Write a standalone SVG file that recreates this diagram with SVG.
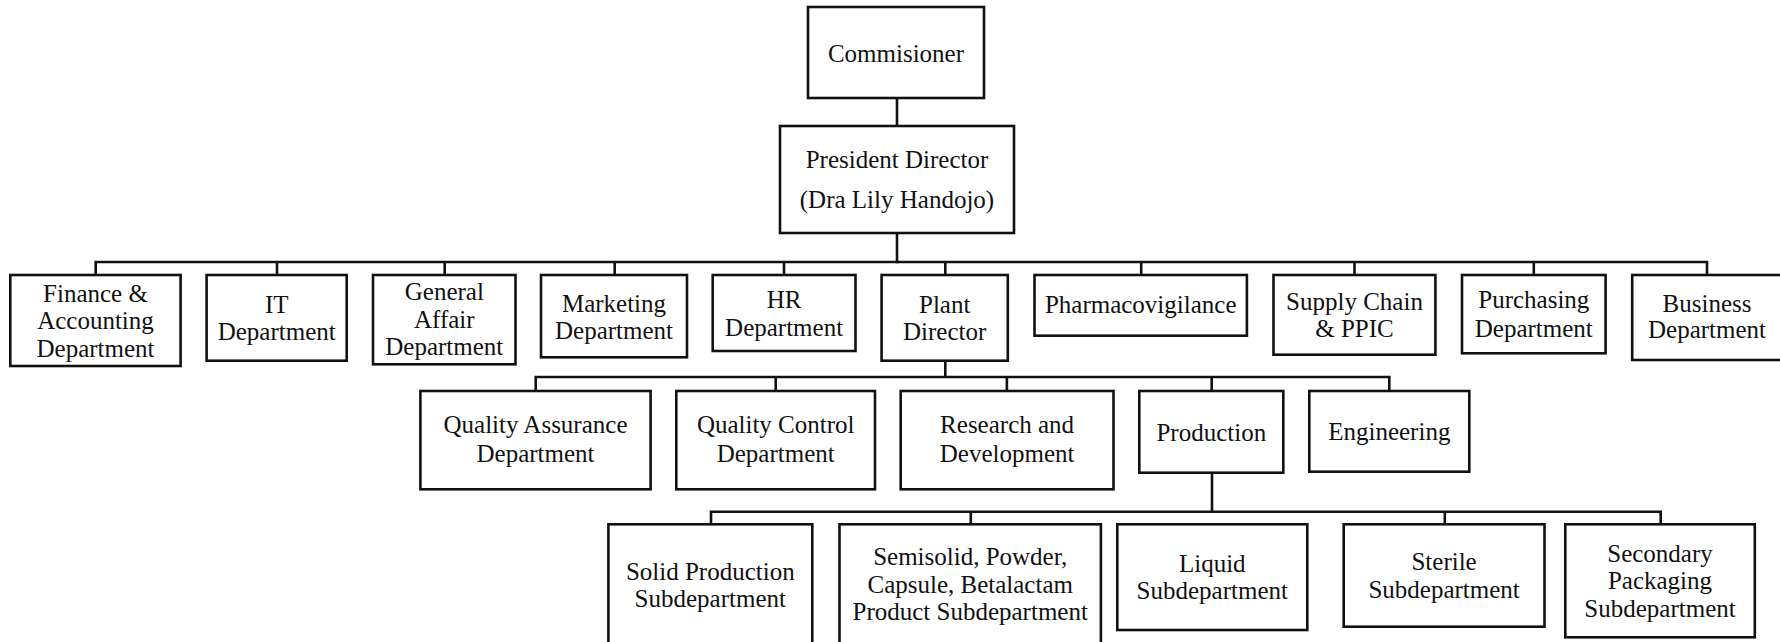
<svg xmlns="http://www.w3.org/2000/svg" width="1780" height="642" viewBox="0 0 1780 642">
<style>
.b{fill:#fff;stroke:#111;stroke-width:2.6}
.c{fill:none;stroke:#111;stroke-width:2.6;stroke-linecap:square;stroke-linejoin:miter}
text{font-family:"Liberation Serif","Times New Roman",serif;font-size:25px;fill:#111;text-anchor:middle}
</style>
<rect width="1780" height="642" fill="#fff"/>
<g id="connectors">
<path class="c" d="M897,98V126M897,233V262"/>
<path class="c" d="M95.7,275V262H1707V275M277,262V275M444.7,262V275M614.7,262V275M784,262V275M945.3,262V275M1141.2,262V275M1354.5,262V275M1533.8,262V275"/>
<path class="c" d="M945.3,360.7V377M535.7,391V377H1389.3V391M775.7,377V391M1006.9,377V391M1211.7,377V391"/>
<path class="c" d="M1212,472.7V511.7M711,524.3V511.7H1660.7V524.3M970.8,511.7V524.3M1444.8,511.7V524.3"/>
</g>
<g id="commissioner"><rect class="b" x="808" y="7" width="176" height="91"/><text x="896" y="62">Commisioner</text></g>
<g id="president"><rect class="b" x="780" y="126" width="234" height="107"/><text x="897" y="168">President Director</text><text x="897" y="208">(Dra Lily Handojo)</text></g>
<g id="finance"><rect class="b" x="10.3" y="275" width="170.3" height="91"/><text x="95.5" y="301.7">Finance &amp;</text><text x="95.5" y="329.3">Accounting</text><text x="95.5" y="356.7">Department</text></g>
<g id="it"><rect class="b" x="206.6" y="275" width="140.1" height="85.7"/><text x="276.7" y="313.3">IT</text><text x="276.7" y="340">Department</text></g>
<g id="general-affair"><rect class="b" x="373" y="275" width="142.5" height="89.3"/><text x="444.3" y="300">General</text><text x="444.3" y="327.7">Affair</text><text x="444.3" y="355">Department</text></g>
<g id="marketing"><rect class="b" x="541" y="275" width="146" height="82.3"/><text x="614" y="311.7">Marketing</text><text x="614" y="339">Department</text></g>
<g id="hr"><rect class="b" x="712.7" y="275" width="142.8" height="76"/><text x="784.1" y="308.3">HR</text><text x="784.1" y="335.7">Department</text></g>
<g id="plant-director"><rect class="b" x="881.6" y="275" width="126.2" height="85.7"/><text x="944.7" y="312.7">Plant</text><text x="944.7" y="340">Director</text></g>
<g id="pharmacovigilance"><rect class="b" x="1034.5" y="275" width="212.4" height="60.7"/><text x="1140.7" y="313.3">Pharmacovigilance</text></g>
<g id="supply-chain"><rect class="b" x="1273.5" y="275" width="161.9" height="79.7"/><text x="1354.5" y="310">Supply Chain</text><text x="1354.5" y="336.7">&amp; PPIC</text></g>
<g id="purchasing"><rect class="b" x="1462" y="275" width="143.6" height="78.3"/><text x="1533.8" y="308.3">Purchasing</text><text x="1533.8" y="336.7">Department</text></g>
<g id="business"><rect class="b" x="1632.2" y="275" width="150" height="85"/><text x="1707" y="311.7">Business</text><text x="1707" y="338.3">Department</text></g>
<g id="qa"><rect class="b" x="420.4" y="391" width="230.2" height="98.3"/><text x="535.5" y="433.3">Quality Assurance</text><text x="535.5" y="461.7">Department</text></g>
<g id="qc"><rect class="b" x="676.3" y="391" width="198.7" height="98.3"/><text x="775.7" y="433.3">Quality Control</text><text x="775.7" y="461.7">Department</text></g>
<g id="rnd"><rect class="b" x="900.7" y="391" width="212.8" height="98.3"/><text x="1007.1" y="433.3">Research and</text><text x="1007.1" y="461.7">Development</text></g>
<g id="production"><rect class="b" x="1139.3" y="391" width="144" height="81.7"/><text x="1211.3" y="441">Production</text></g>
<g id="engineering"><rect class="b" x="1309.3" y="391" width="160" height="80.7"/><text x="1389.3" y="440">Engineering</text></g>
<g id="solid"><rect class="b" x="608.4" y="524.3" width="203.9" height="130"/><text x="710.3" y="580">Solid Production</text><text x="710.3" y="606.7">Subdepartment</text></g>
<g id="semisolid"><rect class="b" x="839.5" y="524.3" width="261.4" height="130"/><text x="970.2" y="565">Semisolid, Powder,</text><text x="970.2" y="592.7">Capsule, Betalactam</text><text x="970.2" y="620">Product Subdepartment</text></g>
<g id="liquid"><rect class="b" x="1117.3" y="524.3" width="190" height="105.7"/><text x="1212.3" y="571.7">Liquid</text><text x="1212.3" y="599.3">Subdepartment</text></g>
<g id="sterile"><rect class="b" x="1343.7" y="524.3" width="200.8" height="102.4"/><text x="1444.1" y="570">Sterile</text><text x="1444.1" y="598.3">Subdepartment</text></g>
<g id="secondary"><rect class="b" x="1565.3" y="524.3" width="189.5" height="113"/><text x="1660" y="561.7">Secondary</text><text x="1660" y="589.3">Packaging</text><text x="1660" y="616.7">Subdepartment</text></g>
</svg>
